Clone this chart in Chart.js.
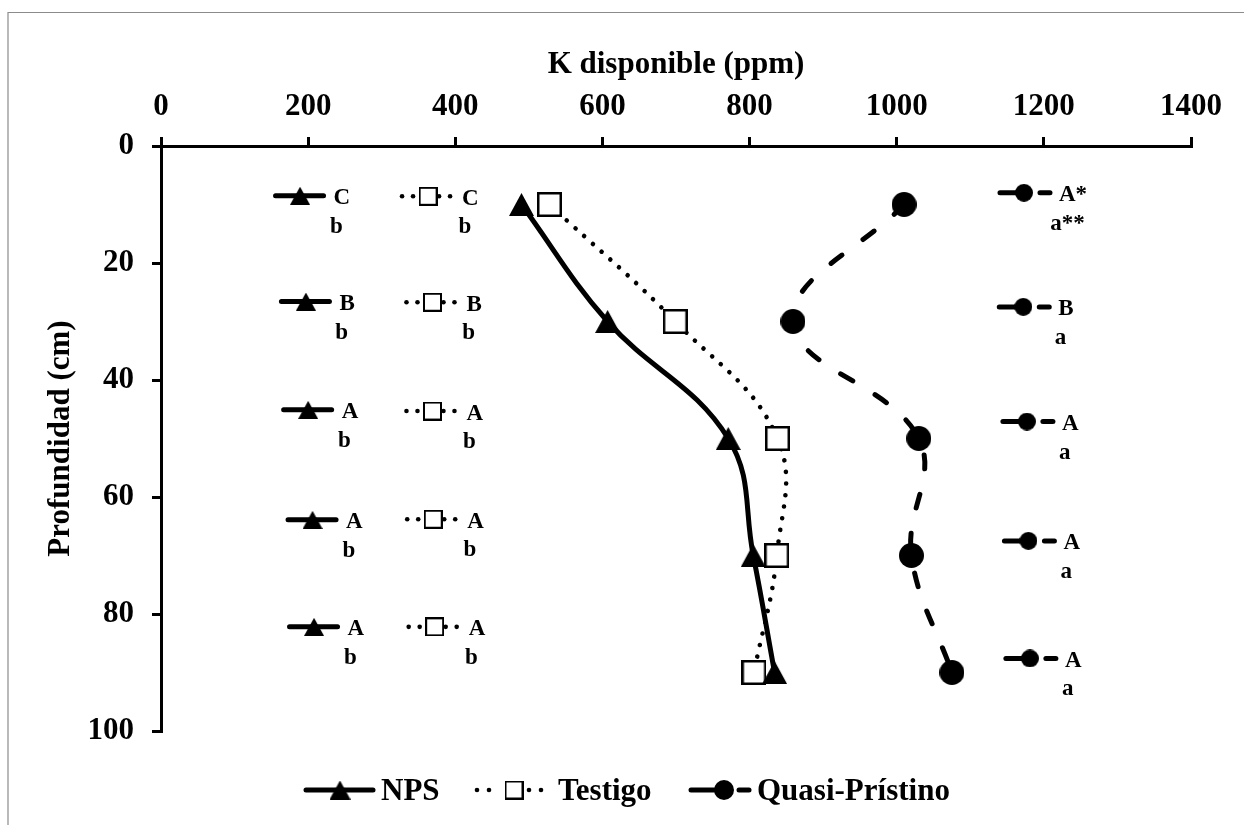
<!DOCTYPE html>
<html>
<head>
<meta charset="utf-8">
<script src="https://cdn.jsdelivr.net/npm/chart.js@4.4.1/dist/chart.umd.min.js"></script>
<style>
  html, body { margin: 0; padding: 0; background: #fff; }
  #wrap { width: 1244px; height: 825px; }
</style>
</head>
<body>
<div id="wrap"><canvas id="chart" width="1244" height="825"></canvas></div>
<script>
// -----------------------------
// datos: profundidad (cm) y K disponible (ppm)
// -----------------------------
const depths = [10, 30, 50, 70, 90];
const npsK = [490, 607, 771, 805, 834];
const testigoK = [528, 699, 838, 837, 806];
const quasiK = [1010, 859, 1030, 1020, 1075];

// letras de comparación (mayúscula arriba, minúscula abajo)
const npsUpper = ["C", "B", "A", "A", "A"];
const npsLower = ["b", "b", "b", "b", "b"];
const testigoUpper = ["C", "B", "A", "A", "A"];
const testigoLower = ["b", "b", "b", "b", "b"];
const quasiUpper = ["A*", "B", "A", "A", "A"];
const quasiLower = ["a**", "a", "a", "a", "a"];

// donde va cada clave de letras (ppm, cm)
const npsKeyK = [189, 197, 200, 206, 208];
const npsKeyDepth = [8.5, 26.6, 45.1, 63.9, 82.2];
const testigoKeyK = [363, 369, 369, 370, 372];
const testigoKeyDepth = [8.6, 26.7, 45.3, 63.8, 82.2];
const quasiKeyK = [1173, 1172, 1177, 1179, 1181];
const quasiKeyDepth = [8.0, 27.5, 47.1, 67.5, 87.6];

// ejes
const xTicks = [0, 200, 400, 600, 800, 1000, 1200, 1400];
const yTicks = [0, 20, 40, 60, 80, 100];

const seriesNames = ["NPS", "Testigo", "Quasi-Prístino"];

const FONT = "'Liberation Serif', 'Times New Roman', serif";

// -----------------------------
// marcadores como imágenes (centradas en el punto)
// -----------------------------
function makeMarker(kind, w, h, lw) {
  const c = document.createElement("canvas");
  c.width = w;
  c.height = h;
  const g = c.getContext("2d");
  g.fillStyle = "#000";
  if (kind === "tri") {
    g.beginPath();
    g.moveTo(w / 2, 0);
    g.lineTo(w, h);
    g.lineTo(0, h);
    g.closePath();
    g.fill();
  } else if (kind === "square") {
    g.fillStyle = "#fff";
    g.fillRect(0, 0, w, h);
    g.strokeStyle = "#000";
    g.lineWidth = lw;
    g.strokeRect(lw / 2, lw / 2, w - lw, h - lw);
  } else {
    g.beginPath();
    g.arc(w / 2, h / 2, w / 2, 0, Math.PI * 2);
    g.fill();
  }
  return c;
}

const mk = {
  dataTri: makeMarker("tri", 25, 23),
  dataSq: makeMarker("square", 25, 25, 2.5),
  dataCirc: makeMarker("circ", 25, 25),
  keyTri: makeMarker("tri", 20, 18),
  keySq: makeMarker("square", 19, 19, 2),
  keyCirc: makeMarker("circ", 18, 18),
  legTri: makeMarker("tri", 21, 19),
  legSq: makeMarker("square", 19, 19, 2),
  legCirc: makeMarker("circ", 20, 20)
};

function pts(xs, ys) {
  return xs.map((v, i) => ({ x: v, y: ys[i] }));
}

// -----------------------------
// claves de letras + leyenda + marco
// -----------------------------
const keyStyles = [
  { ds: 3, type: "solid", upper: npsUpper, lower: npsLower, upX: 33.5 },
  { ds: 4, type: "dots", upper: testigoUpper, lower: testigoLower, upX: 34 },
  { ds: 5, type: "dash", upper: quasiUpper, lower: quasiLower, upX: 35 }
];

function drawDots(ctx, cx, y, offsets, r) {
  offsets.forEach(o => {
    ctx.beginPath();
    ctx.arc(cx + o, y, r, 0, Math.PI * 2);
    ctx.fill();
  });
}

function drawSeg(ctx, y, x1, x2) {
  ctx.beginPath();
  ctx.moveTo(x1, y);
  ctx.lineTo(x2, y);
  ctx.stroke();
}

const extras = {
  id: "extras",
  beforeDatasetsDraw(chart) {
    const ctx = chart.ctx;
    ctx.save();
    ctx.strokeStyle = "#000";
    ctx.fillStyle = "#000";
    ctx.lineWidth = 5;
    ctx.lineCap = "round";
    keyStyles.forEach(k => {
      chart.getDatasetMeta(k.ds).data.forEach(p => {
        if (k.type === "solid") {
          drawSeg(ctx, p.y, p.x - 24.5, p.x + 23.5);
        } else if (k.type === "dots") {
          drawDots(ctx, p.x, p.y, [-26, -15, 11, 22], 2.3);
        } else {
          drawSeg(ctx, p.y, p.x - 24, p.x + 2);
          drawSeg(ctx, p.y, p.x + 16, p.x + 26);
        }
      });
    });
    ctx.restore();
  },
  afterDatasetsDraw(chart) {
    const ctx = chart.ctx;
    ctx.save();
    ctx.fillStyle = "#000";
    ctx.font = "bold 23px " + FONT;
    ctx.textBaseline = "alphabetic";
    keyStyles.forEach(k => {
      chart.getDatasetMeta(k.ds).data.forEach((p, i) => {
        const up = k.upper[i];
        const w = ctx.measureText(up).width;
        ctx.textAlign = "left";
        ctx.fillText(up, p.x + k.upX, p.y + 8.5);
        ctx.textAlign = "center";
        ctx.fillText(k.lower[i], p.x + k.upX + w / 2 - 5.5, p.y + 37);
      });
    });
    ctx.restore();
  },
  afterDraw(chart) {
    const ctx = chart.ctx;
    ctx.save();
    // marco gris
    ctx.strokeStyle = "#8c8c8c";
    ctx.lineWidth = 1.2;
    ctx.beginPath();
    ctx.moveTo(8, 825);
    ctx.lineTo(8, 12.5);
    ctx.lineTo(1244, 12.5);
    ctx.stroke();

    // leyenda
    const ly = 790;
    ctx.strokeStyle = "#000";
    ctx.fillStyle = "#000";
    ctx.lineWidth = 5;
    ctx.lineCap = "round";
    drawSeg(ctx, ly, 306, 373);
    ctx.drawImage(mk.legTri, 340 - 10.5, ly - 9.5);
    drawDots(ctx, 514, ly, [-37, -25, 15, 27], 2.3);
    ctx.drawImage(mk.legSq, 514 - 9.5, ly - 9.5);
    drawSeg(ctx, ly, 691, 720);
    drawSeg(ctx, ly, 739, 749);
    ctx.drawImage(mk.legCirc, 724 - 10, ly - 10);
    ctx.font = "bold 31px " + FONT;
    ctx.textAlign = "left";
    ctx.textBaseline = "alphabetic";
    ctx.fillText(seriesNames[0], 381, 800);
    ctx.fillText(seriesNames[1], 558, 800);
    ctx.fillText(seriesNames[2], 757, 800);
    ctx.restore();
  }
};

// -----------------------------
// gráfico
// -----------------------------
const ctx = document.getElementById("chart").getContext("2d");

new Chart(ctx, {
  type: "scatter",
  data: {
    datasets: [
      {
        label: seriesNames[0],
        data: pts(npsK, depths),
        showLine: true,
        tension: 0.4,
        borderColor: "#000",
        borderWidth: 5,
        borderCapStyle: "round",
        pointStyle: mk.dataTri,
        pointRadius: 12
      },
      {
        label: seriesNames[1],
        data: pts(testigoK, depths),
        showLine: true,
        tension: 0.4,
        borderColor: "#000",
        borderWidth: 4.6,
        borderDash: [0.01, 11.7],
        borderCapStyle: "round",
        pointStyle: mk.dataSq,
        pointRadius: 12
      },
      {
        label: seriesNames[2],
        data: pts(quasiK, depths),
        showLine: true,
        tension: 0.4,
        borderColor: "#000",
        borderWidth: 5,
        borderDash: [14, 26],
        borderCapStyle: "round",
        pointStyle: mk.dataCirc,
        pointRadius: 12
      },
      { label: "nps-key", data: pts(npsKeyK, npsKeyDepth), showLine: false, pointStyle: mk.keyTri, pointRadius: 10 },
      { label: "testigo-key", data: pts(testigoKeyK, testigoKeyDepth), showLine: false, pointStyle: mk.keySq, pointRadius: 10 },
      { label: "quasi-key", data: pts(quasiKeyK, quasiKeyDepth), showLine: false, pointStyle: mk.keyCirc, pointRadius: 10 }
    ]
  },
  options: {
    responsive: false,
    animation: false,
    devicePixelRatio: 1,
    layout: { padding: { left: 0, top: 0, right: 53, bottom: 94 } },
    plugins: {
      legend: { display: false },
      tooltip: { enabled: false }
    },
    scales: {
      x: {
        type: "linear",
        position: "top",
        min: 0,
        max: 1400,
        afterBuildTicks: s => { s.ticks = xTicks.map(v => ({ value: v })); },
        afterFit: s => { s.height = 146; },
        ticks: {
          color: "#000",
          font: { family: FONT, size: 31, weight: "bold" },
          padding: 11,
          maxRotation: 0,
          autoSkip: false,
          callback: v => String(v)
        },
        grid: { drawOnChartArea: false, drawTicks: true, tickLength: 9, color: "#000", lineWidth: 3 },
        border: { display: true, color: "#000", width: 3 },
        title: {
          display: true,
          text: "K disponible (ppm)",
          color: "#000",
          font: { family: FONT, size: 31, weight: "bold" },
          padding: { top: 46, bottom: 0 }
        }
      },
      y: {
        type: "linear",
        position: "left",
        reverse: true,
        min: 0,
        max: 100,
        afterBuildTicks: s => { s.ticks = yTicks.map(v => ({ value: v })); },
        afterFit: s => { s.width = 161; },
        ticks: {
          color: "#000",
          font: { family: FONT, size: 31, weight: "bold" },
          padding: 18,
          autoSkip: false,
          callback: v => String(v)
        },
        grid: { drawOnChartArea: false, drawTicks: true, tickLength: 9, color: "#000", lineWidth: 3 },
        border: { display: true, color: "#000", width: 3 },
        title: {
          display: true,
          text: "Profundidad (cm)",
          color: "#000",
          font: { family: FONT, size: 31, weight: "bold" },
          padding: { top: 42, bottom: 0 }
        }
      }
    }
  },
  plugins: [extras]
});
</script>
</body>
</html>
